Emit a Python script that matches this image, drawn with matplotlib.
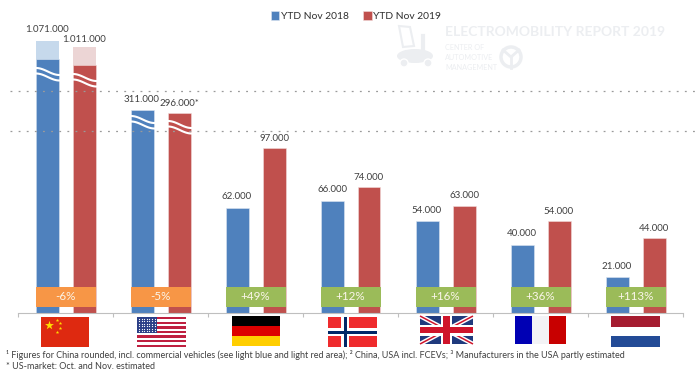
import numpy as np
import matplotlib
matplotlib.use("Agg")
import matplotlib.pyplot as plt
from matplotlib.patches import Rectangle, Circle, Polygon, Ellipse

plt.rcParams['font.family'] = ['Lato', 'DejaVu Sans']

countries = ["China", "USA", "Germany", "Norway", "UK", "France", "Netherlands"]
sales_2018 = [1071000, 311000, 62000, 66000, 54000, 40000, 21000]
sales_2019 = [1011000, 296000, 97000, 74000, 63000, 54000, 44000]
# china without commercial vehicles, only estimated from the picture
china_dark_2018 = 878000
china_dark_2019 = 811000
label_suffix_2019 = ["", "*", "", "", "", "", ""]
changes = ["-6%", "-5%", "+49%", "+12%", "+16%", "+36%", "+113%"]
legend_labels = ["YTD Nov 2018", "YTD Nov 2019"]
notes = ["¹ Figures for China rounded, incl. commercial vehicles (see light blue and light red area); "
         "² China, USA incl. FCEVs; ³ Manufacturers in the USA partly estimated",
         "* US-market: Oct. and Nov. estimated"]

# the chart has a broken axis, so the scale is piecewise
scale_vals = [0, 100000, 296000, 311000, 1011000, 1071000, 1200000]
scale_px = [0, 170, 200, 203, 266, 272, 285]

BLUE = "#4f81bd"
RED = "#c0504d"
TXT = "#404040"


def fwd(v):
    return np.interp(v, scale_vals, scale_px)


def inv(p):
    return np.interp(p, scale_px, scale_vals)


def fmt(v):
    return f"{v:,}".replace(",", ".")


fig = plt.figure(figsize=(7, 3.7), dpi=100)
ax = fig.add_axes([18/700, 1 - 313/370, 665/700, 285/370])
ax.set_yscale('function', functions=(fwd, inv))
x = np.arange(len(countries))
w = 23/95
off = 18.5/95

solid_18 = [china_dark_2018] + sales_2018[1:]
solid_19 = [china_dark_2019] + sales_2019[1:]
ax.bar(x[0] - off, sales_2018[0], w, color="#c6d9ec")
ax.bar(x[0] + off, sales_2019[0], w, color="#ecd5d5")
b1 = ax.bar(x - off, solid_18, w, color=BLUE, edgecolor="#dce6f1", linewidth=0.4, label=legend_labels[0])
b2 = ax.bar(x + off, solid_19, w, color=RED, edgecolor="#f2dcdb", linewidth=0.4, label=legend_labels[1])

for i in x:
    ax.annotate(fmt(sales_2018[i]), (i - off, sales_2018[i]), xytext=(0, 11), textcoords="offset pixels",
                ha="center", va="center", fontsize=7.0, color=TXT)
    # the china 2019 label sits closer to its bar in the reference
    dy = 8 if i == 0 else 10
    ax.annotate(fmt(sales_2019[i]) + label_suffix_2019[i], (i + off, sales_2019[i]), xytext=(0, dy),
                textcoords="offset pixels", ha="center", va="center", fontsize=7.0, color=TXT)
    col = "#f79646" if changes[i].startswith("-") else "#9bbb59"
    ax.bar(i, inv(26) - inv(6.5), off*2 + w, bottom=inv(6.5), color=col, zorder=3)
    ax.text(i, inv(16), changes[i], ha="center", va="center", color="#fbf6ea", fontsize=8.4, zorder=4)

ax.set_xlim(-0.5, 6.5)
ax.set_ylim(0, 1200000)
ax.set_xticks(np.arange(-0.5, 7, 1))
ax.set_xticklabels([])
ax.set_yticks([])
ax.minorticks_off()
ax.yaxis.set_minor_locator(matplotlib.ticker.NullLocator())
ax.tick_params(axis="x", color="#bfbfbf", length=3, width=0.8)
for s in ["top", "left", "right"]:
    ax.spines[s].set_visible(False)
ax.spines["bottom"].set_color("#bfbfbf")
ax.patch.set_alpha(0)

fig.legend(handles=[b1, b2], labels=legend_labels, loc="upper left", bbox_to_anchor=(261.5/700, 1 - 2/370),
           ncol=2, frameon=False, fontsize=7.4, handlelength=0.85, handleheight=0.9, handletextpad=0.15,
           columnspacing=1.35, labelcolor="#303030", borderpad=0.4)

# decorations in pixel coordinates
ov = fig.add_axes([0, 0, 1, 1])
ov.set_xlim(0, 700)
ov.set_ylim(370, 0)
ov.axis("off")

for yy in [90.5, 131]:
    ov.plot([10, 696], [yy, yy], color="#9a9a9a", lw=0.9, dashes=(1.5, 5), zorder=1)

# break marks on the tall bars
t = np.linspace(0, 1, 30)
s_curve = (1 - np.cos(np.pi*t))/2
for bx, by in [(36, 68), (73, 74), (131, 116), (168, 121)]:
    for dy in [0, 5.5]:
        ov.plot(bx + t*23.5, by + dy + 7*s_curve, color="white", lw=1.5, zorder=2)

# watermark
wm = "#eceef1"
ov.text(445, 32, "ELECTROMOBILITY REPORT 2019", fontsize=10, fontweight="bold", color=wm, va="center")
for yy, s in zip([47, 58, 68], ["CENTER OF", "AUTOMOTIVE", "MANAGEMENT"]):
    ov.text(445, yy, s, fontsize=5.2, color=wm, va="center")
ov.add_patch(Circle((511, 57), 10, fc="none", ec=wm, lw=2.5))
ov.plot([503, 511, 519], [50, 57, 50], color=wm, lw=2)
ov.plot([511, 511], [57, 68], color=wm, lw=2)
ov.add_patch(Ellipse((415, 56), 36, 14, fc=wm, ec="none"))
ov.add_patch(Circle((404, 63), 4, fc=wm, ec="white", lw=1))
ov.add_patch(Circle((428, 63), 4, fc=wm, ec="white", lw=1))
ov.add_patch(Polygon([[399, 26], [410, 27], [414, 46], [403, 47]], fc="none", ec=wm, lw=1.5))
ov.plot([423, 423], [36, 48], color=wm, lw=3)


def rect(x0, y0, x1, y1, c):
    ov.add_patch(Rectangle((x0, y0), x1 - x0, y1 - y0, fc=c, ec="none", zorder=5))


# China
rect(41, 317, 89, 347, "#de2910")
ov.scatter([49], [325], marker="*", s=45, color="#ffde00", linewidths=0, zorder=6)
ov.scatter([57, 60, 60, 57], [319.5, 323, 328, 331.5], marker="*", s=7, color="#ffde00", linewidths=0, zorder=6)
# USA
rect(137, 317, 186, 347, "white")
for k in range(7):
    rect(137, 317 + k*4.6, 186, 317 + k*4.6 + 2.3, "#bf2040")
rect(137, 317, 157, 333, "#2b3f87")
sx, sy = np.meshgrid(np.arange(139, 157, 2.6), np.arange(319, 333, 2.4))
ov.scatter(sx.ravel(), sy.ravel(), s=0.8, color="white", linewidths=0, zorder=6)
# Germany
rect(232, 316, 280, 326, "#000000")
rect(232, 326, 280, 336, "#dd0000")
rect(232, 336, 280, 346, "#ffce00")
# Norway
rect(328, 317, 377, 347, "#ef2b2d")
rect(341, 317, 349, 347, "white")
rect(328, 328, 377, 336, "white")
rect(343.5, 317, 346.5, 347, "#002868")
rect(328, 330.5, 377, 333.5, "#002868")
# UK
rect(420, 316, 473, 344, "#1f3a7d")
ov.plot([420, 473], [316, 344], color="white", lw=3.2, zorder=5.5, solid_capstyle="butt")
ov.plot([420, 473], [344, 316], color="white", lw=3.2, zorder=5.5, solid_capstyle="butt")
ov.plot([420, 473], [316, 344], color="#cf142b", lw=1.1, zorder=5.6, solid_capstyle="butt")
ov.plot([420, 473], [344, 316], color="#cf142b", lw=1.1, zorder=5.6, solid_capstyle="butt")
for a, c in [(5.5, "white"), (3.2, "#cf142b")]:
    ov.add_patch(Rectangle((446.5 - a, 316), 2*a, 28, fc=c, ec="none", zorder=5.7))
    ov.add_patch(Rectangle((420, 330 - a), 53, 2*a, fc=c, ec="none", zorder=5.7))
# France
rect(515, 316, 532, 344, "#0000b4")
rect(532, 316, 549, 344, "#f3f3f6")
rect(549, 316, 566, 344, "#c80000")
# Netherlands
rect(611, 316, 660, 327, "#a51c30")
rect(611, 336, 660, 347, "#234b96")

ov.text(6, 354.5, notes[0], fontsize=6.5, color=TXT, va="center")
ov.text(6, 366.5, notes[1], fontsize=6.5, color=TXT, va="center")

fig.savefig("out.png", dpi=100)
